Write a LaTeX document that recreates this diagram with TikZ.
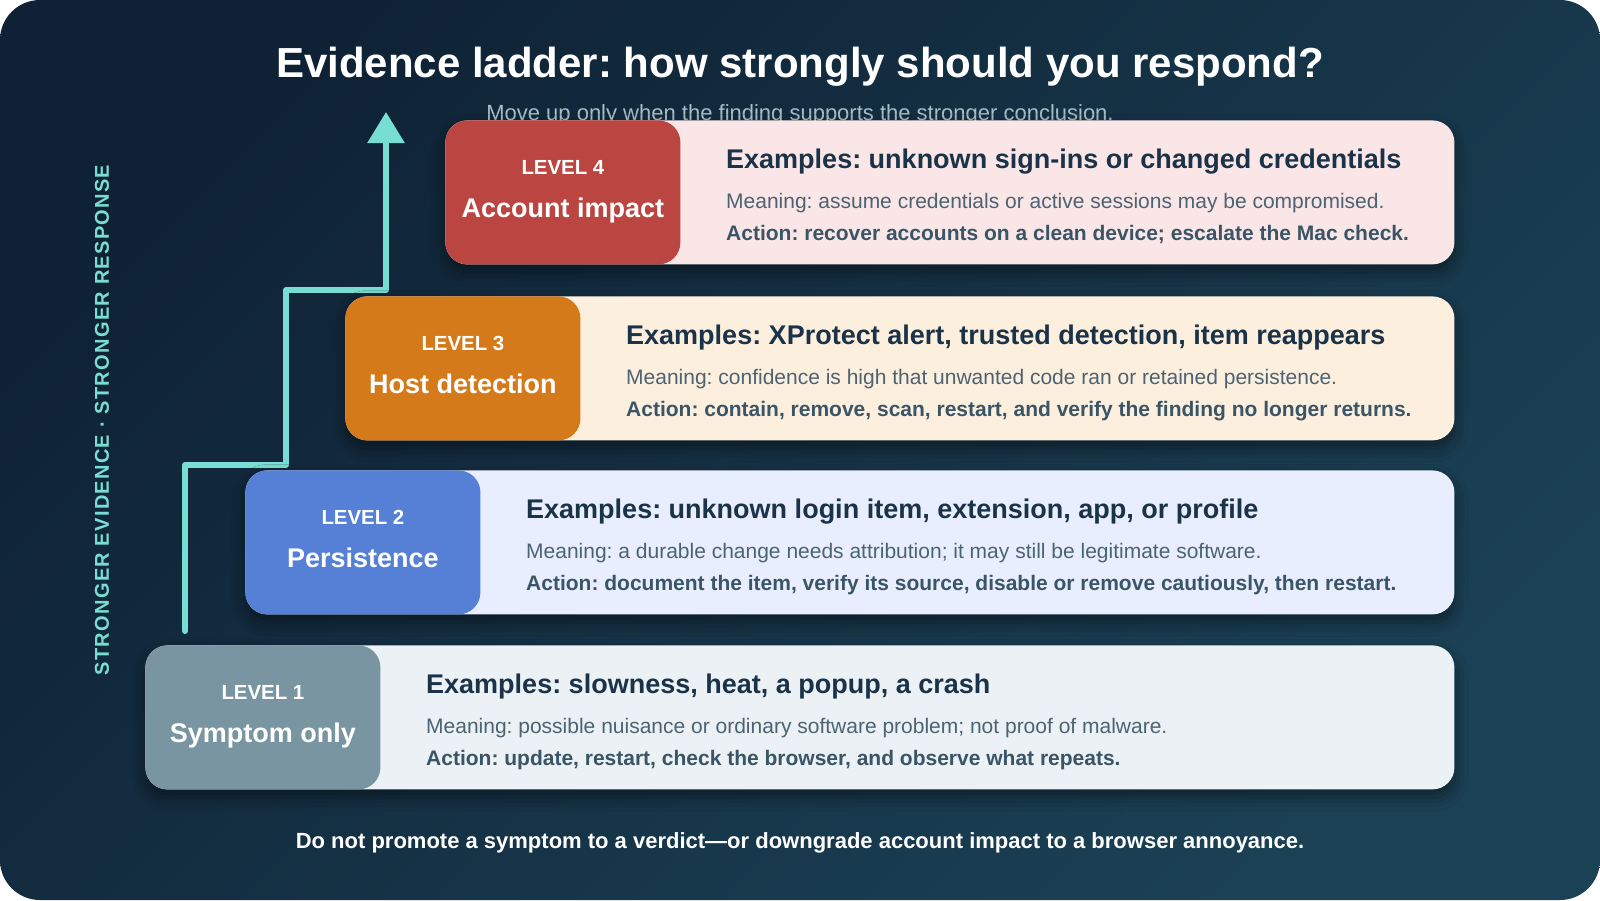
\documentclass[tikz,border=0pt]{standalone}
\usepackage{fontspec}
\setmainfont{Liberation Sans}
\usetikzlibrary{arrows.meta,shadows.blur}
\frenchspacing
\definecolor{bgA}{HTML}{0F2235}
\definecolor{bgB}{HTML}{1B4155}
\definecolor{teal}{HTML}{78DDD3}
\definecolor{subC}{HTML}{A6BEC6}
\definecolor{exC}{HTML}{1B3349}
\definecolor{meanC}{HTML}{4C6373}
\definecolor{actC}{HTML}{3A5566}
\definecolor{dFour}{HTML}{BB4641}
\definecolor{lFour}{HTML}{FAE6E6}
\definecolor{dThree}{HTML}{D57A1A}
\definecolor{lThree}{HTML}{FDEFDE}
\definecolor{dTwo}{HTML}{5580D5}
\definecolor{lTwo}{HTML}{E8EEFD}
\definecolor{dOne}{HTML}{7A95A2}
\definecolor{lOne}{HTML}{EBF1F4}
\begin{document}
\begin{tikzpicture}[x=0.5pt,y=-0.5pt,
  lightbox/.style={rounded corners=11pt, anchor=north west, inner sep=0pt,
    minimum height=72pt,
    blur shadow={shadow xshift=0pt,shadow yshift=-4pt,shadow blur radius=7pt,shadow opacity=45}},
  tagbox/.style={rounded corners=11pt, anchor=north west, inner sep=0pt,
    minimum width=117.5pt, minimum height=72pt},
  lvltxt/.style={font=\bfseries\fontsize{10.2}{11}\selectfont, text=white, inner sep=0pt, text height=7.3pt, text depth=0pt},
  nametxt/.style={font=\bfseries\fontsize{13.5}{15}\selectfont, text=white, inner sep=0pt, text height=9.7pt, text depth=0pt},
  extxt/.style={font=\bfseries\fontsize{13.5}{15}\selectfont, text=exC, inner sep=0pt, anchor=west, text height=9.6pt, text depth=0pt},
  meantxt/.style={font=\fontsize{10.5}{12}\selectfont, text=meanC, anchor=west, inner sep=0pt, text height=7.5pt, text depth=0pt},
  acttxt/.style={font=\bfseries\fontsize{10.5}{12}\selectfont, text=actC, anchor=west, inner sep=0pt, text height=7.5pt, text depth=0pt},
  ladder/.style={draw=teal, line width=3pt, line cap=round, line join=round},
]
\useasboundingbox (0,0) rectangle (1600,900);
\shade[rounded corners=20pt, top color=bgA, bottom color=bgB, shading angle=45] (0,0) rectangle (1600,900);

% title and subtitle
\node[font=\bfseries\fontsize{21}{25}\selectfont, text=white, inner sep=0pt] (title) at (800,67) {Evidence ladder: how strongly should you respond?};
\node[font=\fontsize{11}{13}\selectfont, text=subC, inner sep=0pt, text height=7.9pt, text depth=0pt] (sub) at (800,113) {Move up only when the finding supports the stronger conclusion.};

% side label
\node[rotate=90, font=\bfseries\fontsize{10}{11}\selectfont\addfontfeature{LetterSpace=6.5}, text=teal, inner sep=0pt] (side) at (102,420) {STRONGER EVIDENCE · STRONGER RESPONSE};

% ladder arrow
\coordinate (a0) at (185,631);
\coordinate (a1) at (185,465);
\coordinate (a2) at (286,465);
\coordinate (a3) at (286,290);
\coordinate (a4) at (386,290);
\coordinate (a5) at (386,112);
\draw[ladder, -{Triangle[width=18pt,length=15.5pt]}] (a0) -- (a1) -- (a2) -- (a3) -- (a4) -- (a5);

% Level 4
\node[lightbox, fill=lFour, minimum width=504.5pt] (lv4) at (445,120) {};
\node[tagbox, fill=dFour] (lv4c) at (445,120) {};
\node[lvltxt] (lv4lvl) at ([yshift=12.5pt]lv4c.center) {LEVEL 4};
\node[nametxt] (lv4name) at ([yshift=-7.5pt]lv4c.center) {Account impact};
\node[extxt] (lv4ex) at ([xshift=22.5pt,yshift=17pt]lv4c.east) {Examples: unknown sign-ins or changed credentials};
\node[meantxt] (lv4mean) at ([xshift=22.5pt,yshift=-4.5pt]lv4c.east) {Meaning: assume credentials or active sessions may be compromised.};
\node[acttxt] (lv4act) at ([xshift=22.5pt,yshift=-20.5pt]lv4c.east) {Action: recover accounts on a clean device; escalate the Mac check.};

% Level 3
\node[lightbox, fill=lThree, minimum width=554.5pt] (lv3) at (345,296) {};
\node[tagbox, fill=dThree] (lv3c) at (345,296) {};
\node[lvltxt] (lv3lvl) at ([yshift=12.5pt]lv3c.center) {LEVEL 3};
\node[nametxt] (lv3name) at ([yshift=-7.5pt]lv3c.center) {Host detection};
\node[extxt] (lv3ex) at ([xshift=22.5pt,yshift=17pt]lv3c.east) {Examples: XProtect alert, trusted detection, item reappears};
\node[meantxt] (lv3mean) at ([xshift=22.5pt,yshift=-4.5pt]lv3c.east) {Meaning: confidence is high that unwanted code ran or retained persistence.};
\node[acttxt] (lv3act) at ([xshift=22.5pt,yshift=-20.5pt]lv3c.east) {Action: contain, remove, scan, restart, and verify the finding no longer returns.};

% Level 2
\node[lightbox, fill=lTwo, minimum width=604.5pt] (lv2) at (245,470) {};
\node[tagbox, fill=dTwo] (lv2c) at (245,470) {};
\node[lvltxt] (lv2lvl) at ([yshift=12.5pt]lv2c.center) {LEVEL 2};
\node[nametxt] (lv2name) at ([yshift=-7.5pt]lv2c.center) {Persistence};
\node[extxt] (lv2ex) at ([xshift=22.5pt,yshift=17pt]lv2c.east) {Examples: unknown login item, extension, app, or profile};
\node[meantxt] (lv2mean) at ([xshift=22.5pt,yshift=-4.5pt]lv2c.east) {Meaning: a durable change needs attribution; it may still be legitimate software.};
\node[acttxt] (lv2act) at ([xshift=22.5pt,yshift=-20.5pt]lv2c.east) {Action: document the item, verify its source, disable or remove cautiously, then restart.};

% Level 1
\node[lightbox, fill=lOne, minimum width=654.5pt] (lv1) at (145,645) {};
\node[tagbox, fill=dOne] (lv1c) at (145,645) {};
\node[lvltxt] (lv1lvl) at ([yshift=12.5pt]lv1c.center) {LEVEL 1};
\node[nametxt] (lv1name) at ([yshift=-7.5pt]lv1c.center) {Symptom only};
\node[extxt] (lv1ex) at ([xshift=22.5pt,yshift=17pt]lv1c.east) {Examples: slowness, heat, a popup, a crash};
\node[meantxt] (lv1mean) at ([xshift=22.5pt,yshift=-4.5pt]lv1c.east) {Meaning: possible nuisance or ordinary software problem; not proof of malware.};
\node[acttxt] (lv1act) at ([xshift=22.5pt,yshift=-20.5pt]lv1c.east) {Action: update, restart, check the browser, and observe what repeats.};

% bottom note
\node[font=\bfseries\fontsize{11}{13}\selectfont, text=white, inner sep=0pt] (note) at (800,843) {Do not promote a symptom to a verdict—or downgrade account impact to a browser annoyance.};
\end{tikzpicture}
\end{document}
